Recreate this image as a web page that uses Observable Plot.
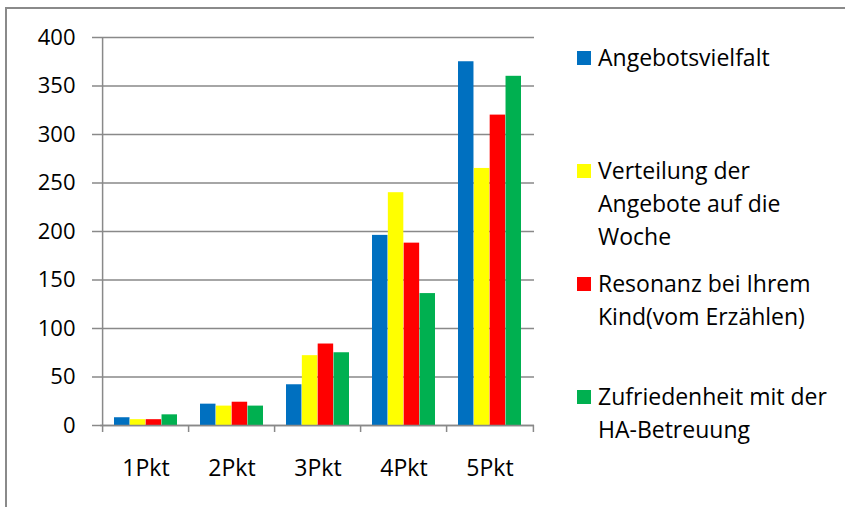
<!DOCTYPE html>
<html>
<head>
<meta charset="utf-8">
<script src="https://cdn.jsdelivr.net/npm/d3@7"></script>
<script src="https://cdn.jsdelivr.net/npm/@observablehq/plot@0.6"></script>
<style>
  html, body { margin: 0; padding: 0; background: #fff; }
  #wrap { position: relative; width: 845px; height: 507px; overflow: hidden; font-family: "Open Sans", sans-serif; }
  #frame { position: absolute; left: 5px; top: 7px; width: 900px; height: 600px;
           border-left: 2px solid #8a8a8a; border-top: 2px solid #8a8a8a; }
  #chart { position: absolute; left: 0; top: 0; }
  .leg { position: absolute; left: 577px; font-size: 23px; line-height: 33px; color: #000; }
  .leg .sw { position: absolute; left: 0; top: 10px; width: 14px; height: 14px; }
  .leg .tx { position: absolute; left: 21px; top: 0; white-space: nowrap; }
</style>
</head>
<body>
<div id="wrap">
  <div id="frame"></div>
  <div id="chart"></div>
</div>
<script>
const categories = ["1Pkt", "2Pkt", "3Pkt", "4Pkt", "5Pkt"];
const series = [
  "Angebotsvielfalt",
  "Verteilung der Angebote auf die Woche",
  "Resonanz bei Ihrem Kind(vom Erzählen)",
  "Zufriedenheit mit der HA-Betreuung"
];
const legendLines = [
  ["Angebotsvielfalt"],
  ["Verteilung der", "Angebote auf die", "Woche"],
  ["Resonanz bei Ihrem", "Kind(vom Erzählen)"],
  ["Zufriedenheit mit der", "HA-Betreuung"]
];
const colors = ["#0070C0", "#FFFF00", "#FF0000", "#00B050"];
const angebotsvielfalt = [8, 22, 42, 196, 375];
const verteilung = [6, 20, 72, 240, 265];
const resonanz = [6, 24, 84, 188, 320];
const zufriedenheit = [11, 20, 75, 136, 360];
const yTicks = [0, 50, 100, 150, 200, 250, 300, 350, 400];

const values = [angebotsvielfalt, verteilung, resonanz, zufriedenheit];
const data = [];
series.forEach((s, si) => categories.forEach((c, ci) => data.push({category: c, series: s, si, value: values[si][ci]})));

const W = 845, H = 507, ML = 100, MR = 311, MT = 37, MB = 82;
const padInner = 0.27;
const step = (W - ML - MR) / categories.length;
const band = step * (1 - padInner);
const slot = band / series.length;
const grid = "#898989";

const marks = [
  Plot.ruleY(yTicks, {stroke: grid, strokeWidth: 1.5}),
  ...series.map((s, si) => Plot.barY(data.filter(d => d.si === si), {
    x: "category", y: "value", fill: colors[si],
    insetLeft: si * slot, insetRight: (series.length - 1 - si) * slot
  })),
  Plot.ruleY([0], {stroke: grid, strokeWidth: 1.5}),
  // y axis line
  Plot.ruleX([categories[0]], {x: d => d, y1: 0, y2: 400, dx: -step / 2, stroke: grid, strokeWidth: 1.5}),
  // category boundary ticks
  Plot.ruleX(categories, {x: d => d, y1: 0, y2: 0, insetBottom: -7, dx: -step / 2, stroke: grid, strokeWidth: 1.5}),
  Plot.ruleX([categories[categories.length - 1]], {x: d => d, y1: 0, y2: 0, insetBottom: -7, dx: step / 2, stroke: grid, strokeWidth: 1.5}),
  Plot.axisY(yTicks, {tickSize: 8, tickPadding: 17, stroke: grid, strokeWidth: 1.5, fill: "#000", fontSize: 22, label: null}),
  Plot.axisX({tickSize: 0, tickPadding: 34, fill: "#000", fontSize: 23, label: null})
];

const chart = Plot.plot({
  width: W, height: H,
  marginLeft: ML, marginRight: MR, marginTop: MT, marginBottom: MB,
  style: {fontFamily: "Open Sans, sans-serif", background: "transparent", color: "#000"},
  x: {domain: categories, paddingInner: padInner, paddingOuter: padInner / 2, label: null},
  y: {domain: [0, 400], label: null},
  marks
});
document.getElementById("chart").appendChild(chart);

// legend
const tops = [40.5, 153.5, 267, 379.5];
const wrap = document.getElementById("wrap");
legendLines.forEach((lines, i) => {
  const item = document.createElement("div");
  item.className = "leg";
  item.style.top = tops[i] + "px";
  const sw = document.createElement("div");
  sw.className = "sw";
  sw.style.background = colors[i];
  const tx = document.createElement("div");
  tx.className = "tx";
  tx.innerHTML = lines.map(l => l.replace(/&/g, "&amp;")).join("<br>");
  item.appendChild(sw);
  item.appendChild(tx);
  wrap.appendChild(item);
});
</script>
</body>
</html>
